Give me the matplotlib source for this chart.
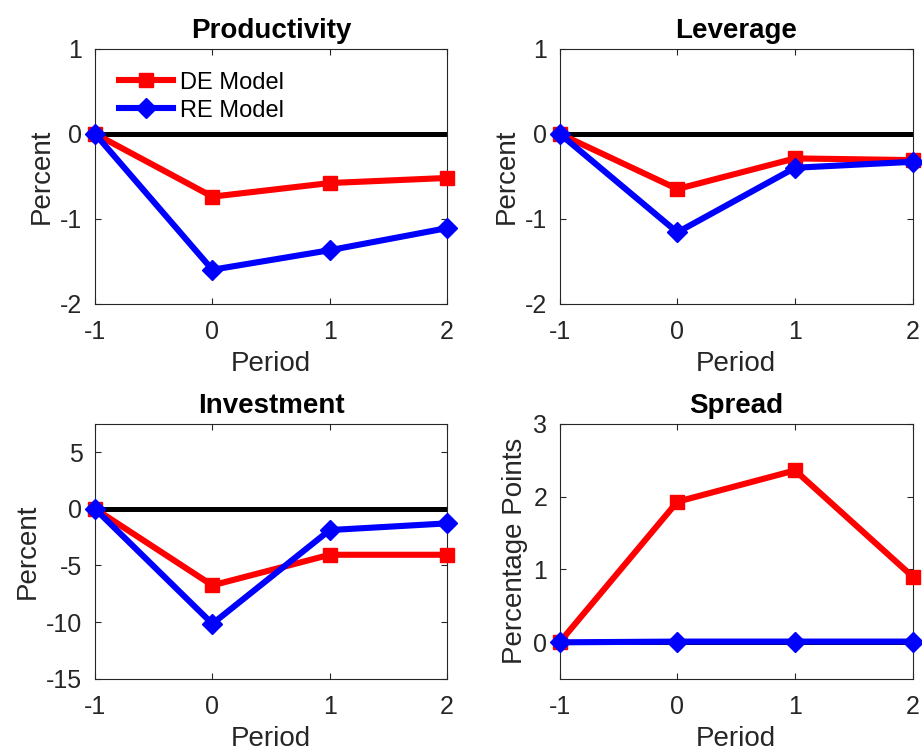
import numpy as np
import matplotlib
matplotlib.use("Agg")
from matplotlib import pyplot as plt

plt.rcParams['font.family'] = ['Liberation Sans', 'DejaVu Sans']
plt.rcParams['axes.unicode_minus'] = False

period = [-1, 0, 1, 2]

prod_de = [0.0, -0.74, -0.58, -0.52]
prod_re = [0.0, -1.60, -1.37, -1.11]

lev_de = [0.0, -0.65, -0.29, -0.31]
lev_re = [0.0, -1.16, -0.40, -0.33]

inv_de = [0.0, -6.76, -4.06, -4.06]
inv_re = [0.0, -10.15, -1.88, -1.29]

spread_de = [0.0, 1.93, 2.36, 0.90]
spread_re = [0.0, 0.01, 0.01, 0.01]

panels = [
    ("Productivity", prod_de, prod_re, "Percent", (-2, 1), [-2, -1, 0, 1]),
    ("Leverage", lev_de, lev_re, "Percent", (-2, 1), [-2, -1, 0, 1]),
    ("Investment", inv_de, inv_re, "Percent", (-15, 7.5), [-15, -10, -5, 0, 5]),
    ("Spread", spread_de, spread_re, "Percentage Points", (-0.5, 3), [0, 1, 2, 3]),
]

axis_grey = (0.15, 0.15, 0.15)

# axes boxes in figure fractions: left, bottom, width, height
boxes = [
    [0.103, 0.595, 0.382, 0.340],
    [0.607, 0.595, 0.383, 0.340],
    [0.103, 0.095, 0.382, 0.340],
    [0.607, 0.095, 0.383, 0.340],
]

fig = plt.figure(figsize=(9.22, 7.5), dpi=100)

for box, (title, de, re, ylab, ylim, yticks) in zip(boxes, panels):
    ax = fig.add_axes(box)
    ax.plot(period, np.zeros(len(period)), color='k', lw=3.6, zorder=2)
    h_de, = ax.plot(period, de, color='r', lw=4.4, marker='s', ms=9.5,
                    clip_on=False, zorder=3, label='DE Model')
    h_re, = ax.plot(period, re, color='b', lw=4.4, marker='D', ms=10.5,
                    clip_on=False, zorder=4, label='RE Model')
    ax.set_xlim(-1, 2)
    ax.set_ylim(*ylim)
    ax.set_xticks(period)
    ax.set_yticks(yticks)
    ax.set_title(title, fontsize=20, fontweight='bold', pad=8)
    ax.set_xlabel("Period", fontsize=20, color=axis_grey, labelpad=5)
    ax.set_ylabel(ylab, fontsize=20, color=axis_grey, labelpad=4)
    ax.tick_params(direction='in', top=True, right=True, length=4,
                   width=0.8, labelsize=18, colors=axis_grey)
    ax.tick_params(axis='x', pad=12)
    ax.tick_params(axis='y', pad=9)
    for s in ax.spines.values():
        s.set_color(axis_grey)
        s.set_linewidth(0.8)
    if title == "Productivity":
        ax.legend(handles=[h_de, h_re], loc='upper left', frameon=False,
                  fontsize=17, handlelength=2.3, borderaxespad=0.3,
                  bbox_to_anchor=(0.02, 0.975), labelspacing=0.25,
                  handletextpad=0.3)

fig.savefig("out.png", dpi=100)
